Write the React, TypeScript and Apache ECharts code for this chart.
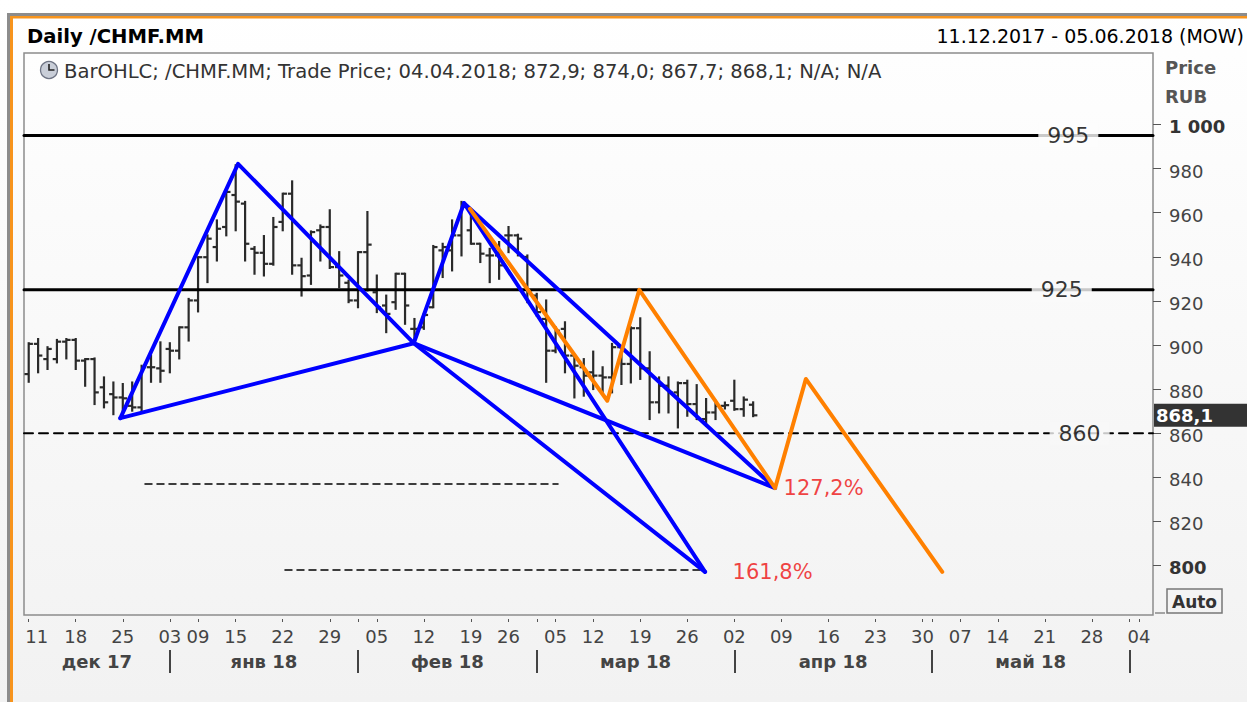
import React, { useEffect, useRef } from 'react';
import * as echarts from 'echarts';

// ---------- calendar (trading days of MOEX) ----------
const START_DATE = '2017-12-11';
const END_DATE = '2018-06-05';
const HOLIDAYS = ['2018-01-01', '2018-01-02', '2018-01-08', '2018-02-23', '2018-03-08', '2018-05-01', '2018-05-09'];

function buildTradingDays(): string[] {
  const out: string[] = [];
  const d = new Date(START_DATE + 'T00:00:00Z');
  const end = new Date(END_DATE + 'T00:00:00Z');
  while (d <= end) {
    const wd = d.getUTCDay();
    const s = d.toISOString().slice(0, 10);
    if (wd !== 0 && wd !== 6 && HOLIDAYS.indexOf(s) < 0) out.push(s);
    d.setUTCDate(d.getUTCDate() + 1);
  }
  return out;
}
const dates = buildTradingDays();

// ---------- axis tick labels ----------
const weekStartDates = ['2017-12-11', '2017-12-18', '2017-12-25', '2018-01-03', '2018-01-09', '2018-01-15', '2018-01-22', '2018-01-29', '2018-02-05', '2018-02-12', '2018-02-19', '2018-02-26', '2018-03-05', '2018-03-12', '2018-03-19', '2018-03-26', '2018-04-02', '2018-04-09', '2018-04-16', '2018-04-23', '2018-04-30', '2018-05-07', '2018-05-14', '2018-05-21', '2018-05-28', '2018-06-04'];
const monthStartDates = ['2018-01-03', '2018-02-01', '2018-03-01', '2018-04-02', '2018-05-02', '2018-06-01'];
const monthNames = ['дек 17', 'янв 18', 'фев 18', 'мар 18', 'апр 18', 'май 18'];
const priceTicks = [800, 820, 840, 860, 880, 900, 920, 940, 960, 980, 1000];

// ---------- OHLC data (11.12.2017 - 04.04.2018) ----------
const opens = [886.8, 900.5, 893.6, 893.6, 901.5, 902.3, 892.9, 893.6, 880.8, 877.7, 876.2, 872.4, 871.7, 889.9, 889.4, 898.2, 897.4, 908.0, 920.2, 939.8, 944.4, 953.5, 968.0, 964.1, 943.6, 941.8, 936.8, 955.8, 968.6, 936.1, 931.5, 952.0, 953.5, 935.3, 928.2, 920.2, 942.1, 923.9, 917.9, 919.4, 932.3, 907.3, 908.0, 917.1, 942.9, 942.9, 949.7, 952.0, 945.9, 940.6, 940.6, 949.7, 949.7, 939.9, 922.4, 911.8, 897.4, 907.3, 895.2, 889.9, 887.6, 886.1, 885.3, 899.0, 891.4, 907.6, 889.4, 874.0, 881.5, 878.5, 882.7, 873.2, 866.4, 869.4, 872.4, 874.7, 870.9, 872.9];
const highs = [900.8, 902.7, 899.0, 902.3, 902.7, 902.7, 893.6, 893.9, 885.3, 883.0, 882.3, 883.0, 890.6, 895.2, 901.2, 900.8, 908.0, 920.9, 939.8, 949.7, 956.5, 970.2, 981.5, 964.9, 944.4, 949.4, 957.6, 968.6, 974.2, 939.1, 951.5, 954.2, 961.1, 942.1, 929.2, 942.1, 960.3, 931.5, 922.4, 932.3, 932.3, 911.8, 914.1, 944.9, 945.9, 956.5, 964.9, 960.3, 945.9, 943.6, 946.7, 953.5, 950.0, 940.6, 923.2, 920.2, 908.0, 910.3, 895.5, 893.6, 897.0, 889.9, 900.5, 899.0, 908.0, 912.1, 896.7, 885.3, 885.3, 883.0, 883.8, 881.8, 875.5, 874.7, 873.9, 883.8, 876.2, 874.0];
const lows = [883.3, 887.6, 889.1, 892.1, 893.9, 889.1, 881.5, 873.2, 871.7, 868.6, 867.9, 870.2, 870.2, 883.3, 883.3, 887.6, 893.9, 902.0, 915.2, 928.5, 938.3, 949.7, 952.0, 938.3, 932.3, 931.5, 936.4, 952.0, 932.3, 922.4, 927.7, 938.3, 934.9, 926.2, 919.4, 917.1, 924.7, 914.9, 905.8, 916.4, 909.6, 902.0, 907.3, 917.1, 930.8, 933.8, 940.6, 945.9, 937.6, 928.5, 930.0, 942.1, 940.6, 919.4, 913.3, 883.3, 896.7, 887.6, 876.2, 877.0, 880.0, 878.5, 878.5, 882.3, 883.0, 884.6, 866.4, 869.4, 869.4, 862.6, 867.9, 866.4, 863.3, 866.4, 871.2, 870.6, 867.9, 867.7];
const closes = [900.5, 895.2, 898.2, 901.5, 902.3, 892.9, 893.6, 878.5, 874.0, 876.2, 875.8, 871.7, 889.9, 889.9, 888.3, 897.4, 908.0, 920.2, 939.8, 948.2, 952.7, 969.4, 965.0, 945.9, 941.8, 936.8, 953.5, 968.6, 936.1, 931.2, 951.2, 953.5, 935.3, 931.5, 920.2, 942.1, 945.5, 917.1, 914.1, 932.3, 917.9, 907.3, 913.6, 944.4, 944.4, 949.7, 962.6, 945.9, 941.4, 940.6, 936.1, 949.7, 948.2, 923.9, 914.9, 897.4, 906.5, 895.2, 890.6, 886.1, 886.1, 885.3, 899.0, 891.4, 907.6, 889.4, 874.0, 881.5, 878.5, 882.7, 873.2, 866.4, 869.4, 872.4, 872.7, 870.9, 875.2, 868.1];

// ---------- annotations (x = trading-day index, y = price) ----------
const ptX = [9.74, 866.8];
const ptA = [22.25, 982.1];
const ptB = [40.92, 900.8];
const ptC = [46.27, 964.3];
const ptD1 = [71.89, 797.1];
const ptD2 = [79.33, 835.1];
const bluePaths = [
  [ptX, ptA, ptB, ptC, ptD1],
  [ptX, ptB, ptD1],
  [ptC, ptD2, ptB],
];
const orangePath = [[46.9, 961.7], [61.5, 874.7], [64.9, 925], [79.33, 835.1], [82.6, 884.6], [97.1, 797.1]];
const solidLevels = [995, 925];
const dashedLevel = 860;
const levelLabelValues = [995, 925, 860];
const levelLabelX = [110.5, 109.8, 111.7];
const shortDashLines = [
  [[12.36, 837], [56.26, 837]],
  [[27.24, 798], [71.35, 798]],
];
const pctLabels = ['127,2%', '161,8%'];
const pctAnchors = [ptD2, ptD1];
const pctOffsets = [8, 27];

const FONT = '"DejaVu Sans", Verdana, sans-serif';

export default function App() {
  const ref = useRef<HTMLDivElement>(null);

  useEffect(() => {
    if (!ref.current) return;
    const chart = echarts.init(ref.current, undefined, { renderer: 'svg' });

    const xMin = -0.5;
    const xMax = dates.length - 0.5;
    const idxOf = (d: string) => dates.indexOf(d);
    const weekIdx = weekStartDates.map(idxOf);
    const monthIdx = monthStartDates.map(idxOf);
    const tickIdx = Array.from(new Set([...weekIdx, ...monthIdx])).sort((a, b) => a - b);
    const bounds = [xMin, ...monthIdx];
    const monthCenters = monthNames.map((_, i) => (bounds[i] + bounds[i + 1]) / 2);

    const ohlc = opens.map((o, i) => [i, o, highs[i], lows[i], closes[i]]);
    const lastClose = closes[closes.length - 1];

    const lineSeries = (data: number[][], color: string, width: number, type: any = 'solid', z = 5) => ({
      type: 'line',
      xAxisIndex: 0,
      yAxisIndex: 0,
      data,
      symbol: 'none',
      silent: true,
      z,
      lineStyle: { color, width, type, join: 'round', cap: 'round' },
      clip: true,
    });

    const bgAt = ['#fcfcfc', '#fafafa', '#f7f7f7'];

    const option: any = {
      animation: false,
      backgroundColor: new echarts.graphic.LinearGradient(0, 0, 0, 1, [
        { offset: 0, color: '#ffffff' },
        { offset: 1, color: '#f2f2f2' },
      ]),
      textStyle: { fontFamily: FONT },
      grid: {
        left: 24,
        right: 94,
        top: 53,
        bottom: 87,
        show: true,
        borderColor: '#8c8c8c',
        borderWidth: 1.5,
        backgroundColor: 'transparent',
      },
      xAxis: [
        {
          type: 'value',
          min: xMin,
          max: xMax,
          position: 'bottom',
          offset: 4,
          axisLine: { show: false, onZero: false },
          splitLine: { show: false },
          axisTick: { show: true, customValues: tickIdx, length: 3, lineStyle: { color: '#555', width: 1 } },
          axisLabel: {
            customValues: weekIdx,
            margin: 8,
            color: '#444',
            fontSize: 18,
            fontFamily: FONT,
            formatter: (v: number) => {
              const i = Math.round(v);
              const d = dates[i];
              if (!d) return '';
              return i === 0 ? '{first|' + d.slice(8, 10) + '}' : d.slice(8, 10);
            },
            rich: { first: { padding: [0, 0, 0, 16], fontSize: 18, color: '#444', fontFamily: FONT } },
          },
        },
        {
          type: 'value',
          min: xMin,
          max: xMax,
          position: 'bottom',
          offset: 35,
          axisLine: { show: false, onZero: false },
          splitLine: { show: false },
          axisTick: { show: true, customValues: monthIdx, length: 23, lineStyle: { color: '#444', width: 2 } },
          axisLabel: {
            customValues: monthCenters,
            margin: 2,
            color: '#444',
            fontSize: 18,
            fontWeight: 'bold',
            fontFamily: FONT,
            formatter: (v: number) => {
              const k = monthCenters.findIndex((c) => Math.abs(c - v) < 1e-6);
              return k >= 0 ? monthNames[k] : '';
            },
          },
        },
      ],
      yAxis: [
        {
          type: 'value',
          position: 'right',
          min: 777.55,
          max: 1032.4,
          axisLine: { show: false, onZero: false },
          splitLine: { show: false },
          axisTick: { show: true, customValues: priceTicks, length: 8, lineStyle: { color: '#555', width: 1 } },
          axisLabel: {
            customValues: priceTicks,
            margin: 16,
            color: '#444',
            fontSize: 18,
            fontFamily: FONT,
            padding: [5, 0, 0, 0],
            formatter: (v: number) => {
              if (v === 1000) return '{b|1 000}';
              if (v === 800) return '{b|800}';
              return String(v);
            },
            rich: { b: { fontWeight: 'bold', fontSize: 18, color: '#333', fontFamily: FONT } },
          },
        },
      ],
      series: [
        {
          type: 'custom',
          name: 'BarOHLC',
          xAxisIndex: 0,
          yAxisIndex: 0,
          data: ohlc,
          encode: { x: 0, y: [1, 2, 3, 4] },
          z: 3,
          silent: true,
          renderItem: (params: any, api: any) => {
            const x = api.value(0);
            const pH = api.coord([x, api.value(2)]);
            const pL = api.coord([x, api.value(3)]);
            const pO = api.coord([x, api.value(1)]);
            const pC = api.coord([x, api.value(4)]);
            const t = api.size([1, 0])[0] * 0.45;
            const style = { stroke: '#2a2a2a', lineWidth: 2.2, fill: 'none' };
            return {
              type: 'group',
              children: [
                { type: 'line', shape: { x1: pH[0], y1: pH[1] - 1, x2: pL[0], y2: pL[1] + 1 }, style },
                { type: 'line', shape: { x1: pO[0] - t, y1: pO[1], x2: pO[0], y2: pO[1] }, style },
                { type: 'line', shape: { x1: pC[0], y1: pC[1], x2: pC[0] + t, y2: pC[1] }, style },
              ],
            };
          },
          markLine: {
            silent: true,
            symbol: ['none', 'none'],
            lineStyle: { color: 'transparent', width: 0 },
            label: {
              show: true,
              position: 'end',
              distance: 1,
              formatter: (p: any) => Number(p.value).toFixed(1).replace('.', ','),
              backgroundColor: '#333333',
              color: '#ffffff',
              fontWeight: 'bold',
              fontSize: 18,
              fontFamily: FONT,
              padding: [3, 36, 2, 2],
            },
            data: [{ yAxis: lastClose }],
          },
        },
        ...solidLevels.map((lv) => lineSeries([[xMin, lv], [xMax, lv]], '#000', 3, 'solid', 4)),
        lineSeries([[xMin, dashedLevel], [xMax, dashedLevel]], '#000', 2, [9, 6], 4),
        ...shortDashLines.map((d) => lineSeries(d, '#000', 1.5, [7, 5], 4)),
        ...bluePaths.map((p) => lineSeries(p, '#0000ff', 4, 'solid', 6)),
        lineSeries(orangePath, '#ff8000', 4, 'solid', 7),
        {
          type: 'scatter',
          xAxisIndex: 0,
          yAxisIndex: 0,
          symbolSize: 1,
          silent: true,
          z: 10,
          itemStyle: { color: 'transparent' },
          data: levelLabelValues.map((v, i) => ({
            value: [levelLabelX[i], v],
            label: {
              show: true,
              position: 'inside',
              formatter: String(v),
              fontSize: 22,
              color: '#000',
              fontFamily: FONT,
              backgroundColor: bgAt[i],
              padding: [1, 9, 1, 9],
            },
          })),
        },
        {
          type: 'scatter',
          xAxisIndex: 0,
          yAxisIndex: 0,
          symbolSize: 1,
          silent: true,
          z: 10,
          itemStyle: { color: 'transparent' },
          data: pctLabels.map((txt, i) => ({
            value: pctAnchors[i],
            label: {
              show: true,
              position: 'right',
              distance: pctOffsets[i],
              formatter: txt,
              fontSize: 21,
              color: '#ee1111',
              fontFamily: FONT,
            },
          })),
        },
      ],
      graphic: [
        { type: 'rect', silent: true, shape: { x: 7, y: 13, width: 1240, height: 3 }, style: { fill: '#8c8c8c' } },
        { type: 'rect', silent: true, shape: { x: 10, y: 16, width: 1237, height: 2.5 }, style: { fill: '#f7941d' } },
        { type: 'rect', silent: true, shape: { x: 7, y: 13, width: 3, height: 689 }, style: { fill: '#8c8c8c' } },
        { type: 'rect', silent: true, shape: { x: 10, y: 16, width: 3, height: 686 }, style: { fill: '#f7941d' } },
        {
          type: 'text', silent: true, x: 27, y: 36,
          style: { text: 'Daily /CHMF.MM', fill: '#000', fontSize: 19.6, fontWeight: 'bold', fontFamily: FONT, verticalAlign: 'middle' },
        },
        {
          type: 'text', silent: true, x: 1244, y: 36,
          style: { text: '11.12.2017 - 05.06.2018 (MOW)', fill: '#000', fontSize: 19, fontFamily: FONT, align: 'right', verticalAlign: 'middle' },
        },
        { type: 'circle', silent: true, shape: { cx: 49, cy: 70, r: 8.5 }, style: { fill: '#c9ced8', stroke: '#6f7585', lineWidth: 1.3 } },
        { type: 'polyline', silent: true, shape: { points: [[49, 64], [49, 70], [54.5, 70]] }, style: { stroke: '#222', lineWidth: 1.6, fill: 'none' } },
        {
          type: 'text', silent: true, x: 64, y: 71,
          style: { text: 'BarOHLC; /CHMF.MM; Trade Price; 04.04.2018; 872,9; 874,0; 867,7; 868,1; N/A; N/A', fill: '#333', fontSize: 19.6, fontFamily: FONT, verticalAlign: 'middle' },
        },
        {
          type: 'text', silent: true, x: 1165, y: 67,
          style: { text: 'Price', fill: '#555', fontSize: 18, fontWeight: 'bold', fontFamily: FONT, verticalAlign: 'middle' },
        },
        {
          type: 'text', silent: true, x: 1165, y: 96,
          style: { text: 'RUB', fill: '#555', fontSize: 18, fontWeight: 'bold', fontFamily: FONT, verticalAlign: 'middle' },
        },
        { type: 'line', silent: true, shape: { x1: 1155, y1: 613, x2: 1165, y2: 613 }, style: { stroke: '#555', lineWidth: 1 } },
        { type: 'rect', silent: true, shape: { x: 1167, y: 589, width: 55, height: 24 }, style: { fill: 'none', stroke: '#777', lineWidth: 1.5 } },
        {
          type: 'text', silent: true, x: 1194.5, y: 601.5,
          style: { text: 'Auto', fill: '#333', fontSize: 17, fontWeight: 'bold', fontFamily: FONT, align: 'center', verticalAlign: 'middle' },
        },
      ],
    };

    chart.setOption(option);
    return () => chart.dispose();
  }, []);

  return <div ref={ref} style={{ position: 'absolute', left: 0, top: 0, width: 1247, height: 702 }} />;
}
